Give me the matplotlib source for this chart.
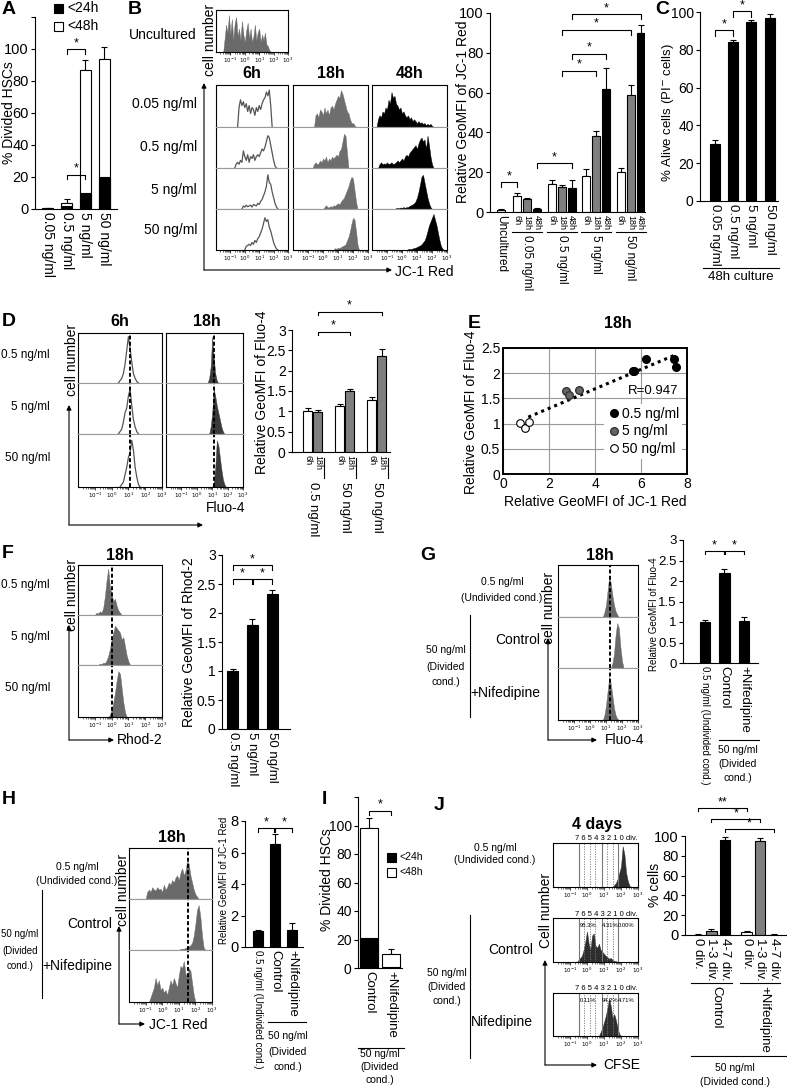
import numpy as np
import matplotlib
matplotlib.use('Agg')
import matplotlib.pyplot as plt
from matplotlib.lines import Line2D
from matplotlib.patches import FancyArrowPatch
from matplotlib.transforms import blended_transform_factory

plt.rcParams['font.family'] = ['Liberation Sans', 'DejaVu Sans']
plt.rcParams['axes.linewidth'] = 0.8
NARROW = ['Liberation Sans Narrow', 'Liberation Sans', 'DejaVu Sans']

# ---------------- data ----------------
# A: % divided HSCs
A_labels = ['0.05 ng/ml', '0.5 ng/ml', '5 ng/ml', '50 ng/ml']
A_48h = [0.5, 4, 87, 94]
A_48h_err = [0.3, 2, 6, 7]
A_24h = [0.2, 2, 10, 20]
A_24h_err = [0.1, 1, 2.5, 7]

# B: relative GeoMFI of JC-1 Red
B_unc, B_unc_err = 1.2, 0.3
B_groups = ['0.05 ng/ml', '0.5 ng/ml', '5 ng/ml', '50 ng/ml']
B_times = ['6h', '18h', '48h']
B_6h = [8, 14, 18, 20]
B_6h_err = [1.5, 2, 3.5, 2]
B_18h = [6.5, 12.5, 38, 59]
B_18h_err = [0.5, 1, 2.5, 5]
B_48h = [1.5, 12, 62, 90]
B_48h_err = [0.3, 4, 10.5, 4]

# C: % alive cells
C_labels = ['0.05 ng/ml', '0.5 ng/ml', '5 ng/ml', '50 ng/ml']
C_vals = [30, 84, 94.5, 97]
C_err = [2.5, 1, 1.5, 2]

# D: relative GeoMFI of Fluo-4
D_groups = ['0.5 ng/ml', '50 ng/ml', '50 ng/ml']
D_6h = [1.0, 1.12, 1.28]
D_6h_err = [0.07, 0.07, 0.08]
D_18h = [0.98, 1.5, 2.35]
D_18h_err = [0.05, 0.05, 0.18]

# E: scatter 18h
E_x_05 = [5.65, 5.7, 6.2, 7.45, 7.5]
E_y_05 = [2.05, 2.05, 2.29, 2.29, 2.12]
E_x_5 = [2.75, 2.85, 3.3]
E_y_5 = [1.64, 1.56, 1.66]
E_x_50 = [0.75, 0.97, 1.13]
E_y_50 = [1.01, 0.92, 1.04]

# F: Rhod-2
F_labels = ['0.5 ng/ml', '5 ng/ml', '50 ng/ml']
F_vals = [1.0, 1.8, 2.33]
F_err = [0.04, 0.09, 0.07]

# G: Fluo-4 with nifedipine
G_labels = ['0.5 ng/ml (Undivided cond.)', 'Control', '+Nifedipine']
G_vals = [1.0, 2.2, 1.03]
G_err = [0.04, 0.1, 0.1]

# H: JC-1 Red with nifedipine
H_labels = ['0.5 ng/ml (Undivided cond.)', 'Control', '+Nifedipine']
H_vals = [1.0, 6.55, 1.1]
H_err = [0.1, 0.6, 0.45]

# I: % divided HSCs
I_labels = ['Control', '+Nifedipine']
I_48h = [98, 10]
I_48h_err = [7, 3.5]
I_24h = [21, 1]
I_24h_err = [4, 0.5]

# J: % cells per division class
J_classes = ['0 div.', '1-3 div.', '4-7 div.']
J_ctrl = [0.5, 4.5, 96]
J_ctrl_err = [0.2, 1.5, 3]
J_nif = [3, 95, 0.5]
J_nif_err = [1.5, 3, 0.2]
J_pct_ctrl = ['95.3%', '4.31%', '0.00%']
J_pct_nif = ['0.11%', '94.2%', '4.71%']

# histograms: (start log10, counts every 0.1 decade)
H_unc = (-1.5, [0, .35, .7, .5, .95, .45, .85, .3, .75, .9, .4, .6, .3, .8, .45, .25, .55,
                .75, .35, .6, .25, .4, .7, .3, .5, .6, .25, .45, .3, .5, .2, .15, .05, 0])
H_B6 = [(-0.5, [0, .5, .7, .55, .65, .5, .6, .4, .55, .35, .5, .45, .3, .5, .4, .55, .45, .6, .7,
                .75, .9, .8, .95, .55, 0]),
        (-0.7, [0, .1, .15, .1, .2, .15, .45, .3, .2, .35, .15, .3, .25, .35, .2, .3, .35, .3, .4,
                .5, .45, .55, .7, .85, .8, .6, .4, .2, .05, 0]),
        (-0.2, [0, .08, .05, .1, .06, .08, .1, .05, .12, .1, .08, .15, .12, .2, .25, .35, .45, .6,
                .9, .7, .65, .45, .3, .15, .05, 0]),
        (0.0, [0, .1, .12, .15, .12, .2, .15, .25, .2, .3, .35, .45, .55, .7, .85, .75, .8, .6, .5,
               .35, .2, .1, .03, 0])]
H_B18 = [(-0.6, [0, .3, .35, .25, .45, .4, .3, .5, .35, .45, .3, .5, .55, .45, .6, .7, .8, .75, .95,
                 .85, .7, .55, .4, .35, .2, .1, .1, .05, 0]),
         (-0.7, [0, .1, .15, .1, .12, .2, .15, .25, .2, .3, .15, .25, .2, .3, .25, .3, .35, .3, .45,
                 .5, .7, .9, .85, .4, 0]),
         (0.0, [0, .05, .1, .05, .04, .08, .05, .1, .08, .12, .15, .12, .2, .25, .3, .4, .5, .6, .75,
                .85, .8, .5, .2, 0]),
         (0.7, [0, .05, .03, .06, .05, .08, .1, .12, .15, .25, .35, .5, .7, .85, .8, .5, .15, 0])]
H_B48 = [(-1.7, [0, .2, .3, .25, .4, .35, .5, .45, .7, .6, .9, .75, .8, .6, .55, .45, .5, .35, .4, .3,
                 .25, .3, .2, .25, .15, .2, .15, .1, .15, .1, .12, .08, .1, .05, .08, .05, .08, .03, 0]),
         (-1.6, [0, .1, .15, .1, .12, .1, .15, .1, .12, .15, .1, .12, .15, .2, .15, .2, .25, .2, .3, .35,
                 .3, .4, .45, .5, .55, .6, .5, .65, .75, .8, .7, .75, .5, .85, .6, .3, .1, 0]),
         (-0.5, [0, .02, .03, .02, .04, .03, .05, .03, .05, .05, .08, .1, .12, .15, .2, .3, .45, .65,
                 .85, .9, .7, .5, .3, .15, .05, 0]),
         (0.3, [0, .02, .03, .02, .04, .05, .06, .08, .1, .12, .15, .2, .25, .35, .5, .65, .75, .85,
                .95, .8, .65, .45, .25, .1, .03, 0])]
H_D6 = [(0.4, [0, .05, .1, .2, .4, .7, 1.0, .75, .45, .2, .1, .03, 0]),
        (0.4, [0, .05, .1, .25, .45, .55, .8, .95, .6, .3, .15, .05, 0]),
        (0.5, [0, .05, .1, .25, .4, .6, .7, .95, .75, .4, .2, .05, 0])]
H_D18 = [(0.7, [0, .1, .35, 1.0, .55, .2, .05, 0]),
         (0.8, [0, .15, .45, .95, .8, .6, .45, .3, .15, .05, 0]),
         (1.0, [0, .1, .4, .95, .85, .6, .35, .15, .05, 0])]
H_F = [(-1.0, [0, .05, .03, .08, .05, .15, .4, .75, 1.0, .6, .45, .3, .35, .2, .1, .05, 0]),
       (-0.8, [0, .03, .02, .05, .04, .1, .2, .35, .55, .7, .85, .8, .75, .7, .55, .6, .4, .2, .08, 0]),
       (-0.2, [0, .05, .15, .3, .5, .75, .95, .9, .6, .3, .1, 0])]
H_G = [(0.8, [0, .1, .25, .55, .85, .7, .45, .25, .12, .05, 0]),
       (1.3, [0, .1, .3, .7, .95, .85, .45, .15, 0]),
       (0.8, [0, .1, .3, .6, .9, .75, .5, .25, .1, .03, 0])]
H_H = [(-1.0, [0, .15, .2, .15, .25, .2, .18, .25, .2, .22, .15, .3, .2, .25, .35, .3, .4, .35, .45,
               .5, .4, .55, .65, .5, .6, .8, .75, .5, .35, .2, .1, .05, 0]),
       (1.0, [0, .02, .03, .02, .05, .04, .08, .1, .15, .3, .55, .85, .95, .7, .3, .05, 0]),
       (-0.8, [0, .1, .2, .3, .5, .35, .45, .25, .3, .2, .25, .15, .3, .45, .35, .5, .4, .3, .55, .75,
               .7, .85, .6, .5, .7, .65, .4, .15, 0])]
H_J = [(1.5, [0, .05, .1, .2, .35, .5, 1.0, .8, .35, .15, .03, 0]),
       (-0.6, [0, .05, .1, .15, .3, .5, .75, .45, .3, .65, .7, .4, .35, .45, .3, .25, .2, .15, .12,
               .08, .1, .05, .03, .02, 0]),
       (0.7, [0, .1, .2, .35, .5, .7, .95, .75, .45, .55, .4, .2, .05, 0])]
J_solid = [-0.47, 0.88, 1.82]
J_dotted = [-0.18, 0.16, 0.45, 1.18, 1.53]

# ---------------- helpers ----------------
W, H = 787, 1089
fig = plt.figure(figsize=(W / 100, H / 100), dpi=100)


def fy(y):
    return 1 - y / H


def axp(x0, y0, x1, y1):
    return fig.add_axes([x0 / W, 1 - y1 / H, (x1 - x0) / W, (y1 - y0) / H])


def ftxt(x, y, s, **kw):
    kw.setdefault('ha', 'center')
    kw.setdefault('va', 'center')
    return fig.text(x / W, fy(y), s, **kw)


def fline(xs, ys, **kw):
    kw.setdefault('color', 'k')
    kw.setdefault('lw', 0.8)
    fig.add_artist(Line2D([x / W for x in xs], [fy(y) for y in ys], transform=fig.transFigure, **kw))


def farrow(x0, y0, x1, y1):
    fig.add_artist(FancyArrowPatch((x0 / W, fy(y0)), (x1 / W, fy(y1)), transform=fig.transFigure,
                                   arrowstyle='-|>', mutation_scale=7, lw=0.8, color='k',
                                   shrinkA=0, shrinkB=0))


def letter(x, y, s):
    ftxt(x, y, s, fontsize=14, fontweight='bold', ha='left')


def bar_ax(box, ylim, yticks, fs=10, ytl=None):
    ax = axp(*box)
    ax.spines[['top', 'right']].set_visible(False)
    ax.set_ylim(*ylim)
    ax.set_yticks(yticks)
    if ytl is not None:
        ax.set_yticklabels(ytl)
    ax.tick_params(axis='y', labelsize=fs, length=3, width=0.8, pad=1.5)
    ax.tick_params(axis='x', length=0, pad=2)
    return ax


def bars(ax, pos, vals, errs, color, width):
    ax.bar(pos, vals, width=width, color=color, edgecolor='k', lw=0.8, zorder=2)
    ax.errorbar(pos, vals, yerr=[np.zeros(len(vals)), errs], fmt='none', ecolor='k',
                elinewidth=0.8, capsize=2.2, capthick=0.8, zorder=1)


def bracket(ax, x1, x2, y, h, star='*', fs=9):
    ax.plot([x1, x1, x2, x2], [y - h, y, y, y - h], color='k', lw=0.8, clip_on=False)
    ax.text((x1 + x2) / 2, y, star, ha='center', va='bottom', fontsize=fs)


def hist_row(box, data, style, color, ticks, ytop=1.08, vlines=None, tfs=4):
    ax = axp(*box)
    start, vals = data
    xs = 10 ** (start + 0.1 * np.arange(len(vals)))
    if style == 'line':
        ax.plot(xs, vals, color=color, lw=0.9)
    else:
        ax.fill_between(xs, vals, color=color, lw=0.3, edgecolor=color)
    ax.set_xscale('log')
    ax.set_xlim(1e-2, 1e3)
    ax.set_ylim(0, ytop)
    ax.set_yticks([])
    if vlines is not None:
        ax.axvline(10 ** vlines, color='k', ls=(0, (2, 1.2)), lw=1.4)
    if ticks:
        ax.set_xticks([1e-1, 1, 1e1, 1e2, 1e3],
                      ['$10^{-1}$', '$10^{0}$', '$10^{1}$', '$10^{2}$', '$10^{3}$'])
        ax.tick_params(axis='x', which='major', labelsize=tfs, length=2, width=0.5, pad=1)
        ax.tick_params(axis='x', which='minor', length=1.2, width=0.4)
    else:
        ax.set_xticks([])
        ax.minorticks_off()
        ax.tick_params(axis='x', which='both', length=0)
    for sp in ax.spines.values():
        sp.set_linewidth(0.8)
    return ax


def hist_stack(x0, x1, rows, datas, style, color, vlines=None, inner='#999999'):
    axs = []
    for i, d in enumerate(datas):
        y0, y1 = rows[i], rows[i + 1]
        last = i == len(datas) - 1
        ax = hist_row((x0, y0, x1, y1), d, style, color, last, vlines=vlines)
        if i > 0:
            ax.spines['top'].set_color(inner)
        if not last:
            ax.spines['bottom'].set_color(inner)
        axs.append(ax)
    return axs


# ---------------- A ----------------
letter(2, 10, 'A')
axA = bar_ax((35, 17, 117, 209), (0, 120), [0, 20, 40, 60, 80, 100, 120], 10.5,
             ['0', '20', '40', '60', '80', '100', ''])
xA = np.arange(4)
bars(axA, xA, A_48h, A_48h_err, 'white', 0.62)
bars(axA, xA, A_24h, A_24h_err, 'black', 0.62)
axA.set_xlim(-0.66, 3.66)
axA.set_xticks(xA, A_labels, rotation=-90, fontsize=10, va='top')
bracket(axA, 1, 2, 100, 3)
bracket(axA, 1, 2, 21.5, 3)
ftxt(9, 113, '% Divided HSCs', rotation=90, fontsize=10)
fig.add_artist(plt.Rectangle((54 / W, fy(13)), 9 / W, 9 / H, transform=fig.transFigure,
                             facecolor='k', edgecolor='k', lw=0.8))
fig.add_artist(plt.Rectangle((54 / W, fy(31)), 9 / W, 9 / H, transform=fig.transFigure,
                             facecolor='w', edgecolor='k', lw=0.8))
ftxt(67, 8, '<24h', ha='left', fontsize=10)
ftxt(67, 26, '<48h', ha='left', fontsize=10)

# ---------------- B histograms ----------------
letter(128, 10, 'B')
hist_row((216, 10, 288, 52), H_unc, 'fill', '#6a6a6a', True)
ftxt(197, 35, 'Uncultured', ha='right', fontsize=10)
ftxt(210, 40, 'cell number', rotation=90, fontsize=10)
rowsB = [85, 127, 168, 209, 250]
hist_stack(216, 288, rowsB, H_B6, 'line', '#555555')
hist_stack(293, 368, rowsB, H_B18, 'fill', '#6e6e6e')
hist_stack(372, 447, rowsB, H_B48, 'fill', 'black')
for t, xc in zip(B_times, [252, 331, 410]):
    ftxt(xc, 73, t, fontsize=11.5, fontweight='bold')
for g, yc in zip(B_groups, [104, 147, 190, 230]):
    ftxt(197, yc, g, ha='right', fontsize=10)
farrow(204, 270, 204, 83)
farrow(204, 270, 392, 270)
ftxt(395, 272, 'JC-1 Red', ha='left', fontsize=10)

# ---------------- B bars ----------------
axB = bar_ax((490, 13, 645, 212), (0, 100), [0, 20, 40, 60, 80, 100], 10.5)
gstart = 1.6 + 3.45 * np.arange(4)
bars(axB, [0], [B_unc], [B_unc_err], 'white', 0.8)
bars(axB, gstart, B_6h, B_6h_err, 'white', 0.8)
bars(axB, gstart + 1, B_18h, B_18h_err, '#7f7f7f', 0.8)
bars(axB, gstart + 2, B_48h, B_48h_err, 'black', 0.8)
axB.set_xlim(-1.1, 14.4)
posB = [0] + [g + k for g in gstart for k in range(3)]
axB.set_xticks(posB, ['Uncultured'] + B_times * 4, rotation=-90, va='top')
for i, tl in enumerate(axB.get_xticklabels()):
    tl.set_fontsize(8.5 if i == 0 else 6.5)
tB = blended_transform_factory(axB.transData, fig.transFigure)
for g, lab in zip(gstart, B_groups):
    axB.plot([g - 0.5, g + 2.5], [fy(232), fy(232)], color='k', lw=0.8, transform=tB, clip_on=False)
    axB.text(g + 1, fy(235), lab, rotation=-90, ha='center', va='top', fontsize=8.5, transform=tB)
bracket(axB, 0, gstart[0], 15, 2.5)
bracket(axB, gstart[0] + 2, gstart[1] + 2, 24.5, 2.5)
bracket(axB, gstart[1] + 1, gstart[2] + 1, 71, 2.5)
bracket(axB, gstart[1] + 2, gstart[2] + 2, 79.5, 2.5)
bracket(axB, gstart[1] + 1, gstart[3] + 1, 91.5, 2.5)
bracket(axB, gstart[1] + 2, gstart[3] + 2, 99.5, 2.5)
ftxt(463, 112, 'Relative GeoMFI of JC-1 Red', rotation=90, fontsize=10)

# ---------------- C ----------------
letter(655, 10, 'C')
axC = bar_ax((700, 12, 778, 201), (0, 100), [0, 20, 40, 60, 80, 100], 10)
xC = np.arange(4)
bars(axC, xC, C_vals, C_err, 'black', 0.55)
axC.set_xlim(-0.8, 3.45)
axC.set_xticks(xC, C_labels, rotation=-90, fontsize=9.5, va='top')
bracket(axC, 0, 1, 90.5, 3)
bracket(axC, 1, 2, 100.5, 3)
ftxt(668, 112, '% Alive cells (PI$^{-}$ cells)', rotation=90, fontsize=9.5)
fline([703, 779], [268, 268])
ftxt(741, 277, '48h culture', fontsize=9.5)

# ---------------- D ----------------
letter(2, 322, 'D')
rowsD = [333, 383, 434, 487]
hist_stack(78, 162, rowsD, H_D6, 'line', '#555555', vlines=1.08)
hist_stack(166, 243, rowsD, H_D18, 'fill', '#3a3a3a', vlines=1.12)
ftxt(120, 322, '6h', fontsize=11.5, fontweight='bold')
ftxt(207, 322, '18h', fontsize=11.5, fontweight='bold')
for g, yc in zip(['0.5 ng/ml', '5 ng/ml', '50 ng/ml'], [355, 407, 458]):
    ftxt(50, yc, g, ha='right', fontsize=8.5)
ftxt(72, 360, 'cell number', rotation=90, fontsize=10)
farrow(69, 525, 69, 405)
farrow(69, 525, 203, 525)
ftxt(245, 508, 'Fluo-4', ha='right', fontsize=10)

axD = bar_ax((292, 330, 390, 452), (0, 3), [0, 0.5, 1, 1.5, 2, 2.5, 3], 10,
             ['0', '0.5', '1', '1.5', '2', '2.5', '3'])
gD = np.array([0, 3.2, 6.4])
bars(axD, gD, D_6h, D_6h_err, 'white', 0.85)
bars(axD, gD + 1, D_18h, D_18h_err, '#7f7f7f', 0.85)
axD.set_xlim(-1.55, 8.25)
axD.set_xticks(np.concatenate([gD, gD + 1]), ['6h'] * 3 + ['18h'] * 3, rotation=-90,
               fontsize=6.5, va='top')
tD = blended_transform_factory(axD.transData, fig.transFigure)
for g, lab in zip(gD, D_groups):
    axD.plot([g + 1.6, g + 1.6], [fy(458), fy(478)], color='k', lw=0.8, transform=tD, clip_on=False)
    axD.text(g + 0.55, fy(482), lab, rotation=-90, ha='center', va='top', fontsize=9.5, transform=tD)
bracket(axD, 1, gD[1] + 1, 2.96, 0.08)
bracket(axD, 1, gD[2] + 1, 3.45, 0.08)
ftxt(262, 392, 'Relative GeoMFI of Fluo-4', rotation=90, fontsize=10)

# ---------------- E ----------------
letter(468, 323, 'E')
ftxt(618, 323, '18h', fontsize=11.5, fontweight='bold')
axE = axp(503, 348, 687, 474)
axE.grid(True, color='#999999', lw=0.8)
axE.set_axisbelow(True)
allx = np.array(E_x_05 + E_x_5 + E_x_50)
ally = np.array(E_y_05 + E_y_5 + E_y_50)
k, b = np.polyfit(allx, ally, 1)
xl = np.array([allx.min() + 0.35, allx.max()])
axE.plot(xl, k * xl + b, color='k', ls=(0, (1, 1.3)), lw=2.2, zorder=2)
axE.plot(E_x_05, E_y_05, 'o', ms=5.5, mfc='k', mec='k', label='0.5 ng/ml', zorder=3)
axE.plot(E_x_5, E_y_5, 'o', ms=5.5, mfc='#666666', mec='#333333', label='5 ng/ml', zorder=3)
axE.plot(E_x_50, E_y_50, 'o', ms=5.5, mfc='white', mec='k', mew=0.8, label='50 ng/ml', zorder=3)
axE.set_xlim(0, 8)
axE.set_ylim(0, 2.5)
axE.set_xticks([0, 2, 4, 6, 8])
axE.set_yticks([0, 0.5, 1, 1.5, 2, 2.5], ['0', '0.5', '1', '1.5', '2', '2.5'])
axE.tick_params(labelsize=10, length=0, pad=2)
for sp in axE.spines.values():
    sp.set_linewidth(1.4)
axE.text(7.62, 1.65, 'R=0.947', ha='right', va='center', fontsize=9.5)
leg = axE.legend(loc='lower right', bbox_to_anchor=(0.99, 0.1), fontsize=10, frameon=True,
                 handletextpad=0.1, borderpad=0.2, labelspacing=0.25, handlelength=1.0,
                 borderaxespad=0.2)
leg.get_frame().set_edgecolor('none')
leg.get_frame().set_alpha(1)
ftxt(595, 502, 'Relative GeoMFI of JC-1 Red', fontsize=10)
ftxt(471, 412, 'Relative GeoMFI of Fluo-4', rotation=90, fontsize=10)

# ---------------- F ----------------
letter(2, 553, 'F')
hist_stack(78, 162, [565, 615, 665, 717], H_F, 'fill', '#6a6a6a', vlines=0.02)
ftxt(120, 556, '18h', fontsize=11.5, fontweight='bold')
for g, yc in zip(F_labels, [585, 637, 688]):
    ftxt(50, yc, g, ha='right', fontsize=8.5)
ftxt(72, 595, 'cell number', rotation=90, fontsize=10)
farrow(69, 740, 69, 625)
farrow(69, 740, 114, 740)
ftxt(117, 740, 'Rhod-2', ha='left', fontsize=10)

axF = bar_ax((222, 555, 290, 729), (0, 3), [0, 0.5, 1, 1.5, 2, 2.5, 3], 10,
             ['0', '0.5', '1', '1.5', '2', '2.5', '3'])
xF = np.arange(3)
bars(axF, xF, F_vals, F_err, 'black', 0.55)
axF.set_xlim(-0.53, 2.9)
axF.set_xticks(xF, F_labels, rotation=-90, fontsize=9.5, va='top')
bracket(axF, 0, 0.97, 2.58, 0.08)
bracket(axF, 1.03, 2, 2.58, 0.08)
bracket(axF, 0, 2, 2.82, 0.08)
ftxt(189, 642, 'Relative GeoMFI of Rhod-2', rotation=90, fontsize=10)

# ---------------- G ----------------
letter(420, 555, 'G')
hist_stack(558, 638, [565, 617, 668, 720], H_G, 'fill', '#6a6a6a', vlines=1.27)
ftxt(600, 556, '18h', fontsize=11.5, fontweight='bold')
ftxt(502, 582, '0.5 ng/ml', fontsize=7.5, family=NARROW)
ftxt(502, 598, '(Undivided cond.)', fontsize=7.5, family=NARROW)
fline([470, 470], [615, 717])
ftxt(540, 640, 'Control', ha='right', fontsize=10)
ftxt(540, 693, '+Nifedipine', ha='right', fontsize=10)
ftxt(446, 650, '50 ng/ml', fontsize=7.5, family=NARROW)
ftxt(446, 667, '(Divided', fontsize=7.5, family=NARROW)
ftxt(446, 682, 'cond.)', fontsize=7.5, family=NARROW)
ftxt(549, 608, 'cell number', rotation=90, fontsize=10)
farrow(548, 740, 548, 638)
farrow(548, 740, 597, 740)
ftxt(605, 740, 'Fluo-4', ha='left', fontsize=10)

axG = bar_ax((683, 540, 758, 663), (0, 3), [0, 0.5, 1, 1.5, 2, 2.5, 3], 9.5,
             ['0', '0.5', '1', '1.5', '2', '2.5', '3'])
xG = np.arange(3)
bars(axG, xG, G_vals, G_err, 'black', 0.55)
axG.set_xlim(-1.13, 2.72)
axG.set_xticks(xG, G_labels, rotation=-90, va='top')
for i, tl in enumerate(axG.get_xticklabels()):
    tl.set_fontsize(7 if i == 0 else 9.5)
    if i == 0:
        tl.set_family(NARROW)
bracket(axG, 0, 0.97, 2.73, 0.08)
bracket(axG, 1.03, 2, 2.73, 0.08)
tG = blended_transform_factory(axG.transData, fig.transFigure)
axG.plot([0.7, 2.75], [fy(740), fy(740)], color='k', lw=0.8, transform=tG, clip_on=False)
ftxt(738, 750, '50 ng/ml', fontsize=7.5, family=NARROW)
ftxt(738, 764, '(Divided', fontsize=7.5, family=NARROW)
ftxt(738, 778, 'cond.)', fontsize=7.5, family=NARROW)
ftxt(654, 614, 'Relative GeoMFI of Fluo-4', rotation=90, fontsize=7, family=NARROW)

# ---------------- H ----------------
letter(2, 800, 'H')
hist_stack(129, 212, [848, 899, 950, 1002], H_H, 'fill', '#6a6a6a', vlines=1.58)
ftxt(172, 838, '18h', fontsize=11.5, fontweight='bold')
ftxt(77, 867, '0.5 ng/ml', fontsize=7.5, family=NARROW)
ftxt(77, 881, '(Undivided cond.)', fontsize=7.5, family=NARROW)
fline([42, 42], [890, 998])
ftxt(112, 924, 'Control', ha='right', fontsize=10)
ftxt(112, 966, '+Nifedipine', ha='right', fontsize=10)
ftxt(20, 934, '50 ng/ml', fontsize=7, family=NARROW)
ftxt(20, 951, '(Divided', fontsize=7, family=NARROW)
ftxt(20, 966, 'cond.)', fontsize=7, family=NARROW)
ftxt(123, 890, 'cell number', rotation=90, fontsize=10)
farrow(119, 1024, 119, 926)
farrow(119, 1024, 145, 1024)
ftxt(149, 1025, 'JC-1 Red', ha='left', fontsize=10)

axH = bar_ax((245, 821, 303, 947), (0, 8), [0, 2, 4, 6, 8], 10.5)
xH = np.arange(3)
bars(axH, xH, H_vals, H_err, 'black', 0.6)
axH.set_xlim(-0.76, 2.65)
axH.set_xticks(xH, H_labels, rotation=-90, va='top')
for i, tl in enumerate(axH.get_xticklabels()):
    tl.set_fontsize(7 if i == 0 else 9.5)
    if i == 0:
        tl.set_family(NARROW)
bracket(axH, 0, 0.97, 7.55, 0.25)
bracket(axH, 1.03, 2, 7.55, 0.25)
tH = blended_transform_factory(axH.transData, fig.transFigure)
axH.plot([0.6, 2.8], [fy(1022), fy(1022)], color='k', lw=0.8, transform=tH, clip_on=False)
ftxt(288, 1036, '50 ng/ml', fontsize=7.5, family=NARROW)
ftxt(288, 1052, '(Divided', fontsize=7.5, family=NARROW)
ftxt(288, 1067, 'cond.)', fontsize=7.5, family=NARROW)
ftxt(224, 880, 'Relative GeoMFI of JC-1 Red', rotation=90, fontsize=7, family=NARROW)

# ---------------- I ----------------
letter(322, 800, 'I')
axI = bar_ax((358, 797, 402, 968), (0, 120), [0, 20, 40, 60, 80, 100, 120], 10,
             ['0', '20', '40', '60', '80', '100', ''])
xI = np.arange(2)
bars(axI, xI, I_48h, I_48h_err, 'white', 0.8)
bars(axI, xI, I_24h, I_24h_err, 'black', 0.8)
axI.set_xlim(-0.5, 1.5)
axI.set_xticks(xI, I_labels, rotation=-90, fontsize=9.5, va='top')
bracket(axI, 0, 1, 110.5, 3)
tI = blended_transform_factory(axI.transData, fig.transFigure)
axI.plot([-0.5, 1.6], [fy(1048), fy(1048)], color='k', lw=0.8, transform=tI, clip_on=False)
ftxt(380, 1054, '50 ng/ml', fontsize=7.5, family=NARROW)
ftxt(380, 1067, '(Divided', fontsize=7.5, family=NARROW)
ftxt(380, 1080, 'cond.)', fontsize=7.5, family=NARROW)
ftxt(327, 880, '% Divided HSCs', rotation=90, fontsize=10)
fig.add_artist(plt.Rectangle((387 / W, fy(862)), 9 / W, 9 / H, transform=fig.transFigure,
                             facecolor='k', edgecolor='k', lw=0.8))
fig.add_artist(plt.Rectangle((387 / W, fy(877)), 9 / W, 9 / H, transform=fig.transFigure,
                             facecolor='w', edgecolor='k', lw=0.8))
ftxt(399, 857, '<24h', ha='left', fontsize=7.5, family=NARROW)
ftxt(399, 872, '<48h', ha='left', fontsize=7.5, family=NARROW)

# ---------------- J ----------------
letter(434, 805, 'J')
ftxt(597, 825, '4 days', fontsize=11.5, fontweight='bold')
rowsJ = [(843, 887), (918, 962), (993, 1036)]
for i, (y0, y1) in enumerate(rowsJ):
    ax = hist_row((553, y0, 638, y1), H_J[i], 'fill', '#2e2e2e', True)
    for v in J_solid:
        ax.axvline(10 ** v, color='#777777', lw=0.8)
    for v in J_dotted:
        ax.axvline(10 ** v, color='#777777', lw=0.6, ls=(0, (1.5, 1.5)))
    ftxt(606, y0 - 4, '7 6 5 4 3 2 1 0 div.', fontsize=5.5)
    if i > 0:
        pct = J_pct_ctrl if i == 1 else J_pct_nif
        for s, xv in zip(pct, [0.05, 1.35, 2.3]):
            ax.text(10 ** xv, 0.95, s, ha='center', va='top', fontsize=4.2, family=NARROW)
ftxt(495, 848, '0.5 ng/ml', fontsize=7.5, family=NARROW)
ftxt(495, 860, '(Undivided cond.)', fontsize=7.5, family=NARROW)
fline([470, 470], [915, 1058])
ftxt(533, 950, 'Control', ha='right', fontsize=10)
ftxt(533, 1022, 'Nifedipine', ha='right', fontsize=10)
ftxt(447, 973, '50 ng/ml', fontsize=7.5, family=NARROW)
ftxt(447, 987, '(Divided', fontsize=7.5, family=NARROW)
ftxt(447, 1001, 'cond.)', fontsize=7.5, family=NARROW)
ftxt(546, 910, 'Cell number', rotation=90, fontsize=10)
farrow(545, 1065, 545, 960)
farrow(545, 1065, 597, 1065)
ftxt(603, 1065, 'CFSE', ha='left', fontsize=10)

axJ = bar_ax((685, 836, 787, 935), (0, 100), [0, 20, 40, 60, 80, 100], 10.5)
xJ = np.arange(3)
colJ = ['white', '#7f7f7f', 'black']
bars(axJ, xJ, J_ctrl, J_ctrl_err, colJ, 0.75)
bars(axJ, xJ + 3.6, J_nif, J_nif_err, colJ, 0.75)
axJ.set_xlim(-0.96, 6.6)
axJ.set_xticks(np.concatenate([xJ, xJ + 3.6]), J_classes * 2, rotation=-90, fontsize=9.5, va='top')
bracket(axJ, 0, 3.6, 128, 2.5, '**')
bracket(axJ, 1, 4.6, 117, 2.5)
bracket(axJ, 2, 5.6, 107, 2.5)
tJ = blended_transform_factory(axJ.transData, fig.transFigure)
for g, lab in zip([0, 3.6], ['Control', '+Nifedipine']):
    axJ.plot([g - 0.5, g + 2.5], [fy(983), fy(983)], color='k', lw=0.8, transform=tJ, clip_on=False)
    axJ.text(g + 1.35, fy(986), lab, rotation=-90, ha='center', va='top', fontsize=9.5, transform=tJ)
axJ.plot([-0.5, 6.6], [fy(1056), fy(1056)], color='k', lw=0.8, transform=tJ, clip_on=False)
ftxt(735, 1068, '50 ng/ml', fontsize=7.5, family=NARROW)
ftxt(735, 1082, '(Divided cond.)', fontsize=7.5, family=NARROW)
ftxt(655, 885, '% cells', rotation=90, fontsize=10)

fig.savefig('out.png', dpi=100)
